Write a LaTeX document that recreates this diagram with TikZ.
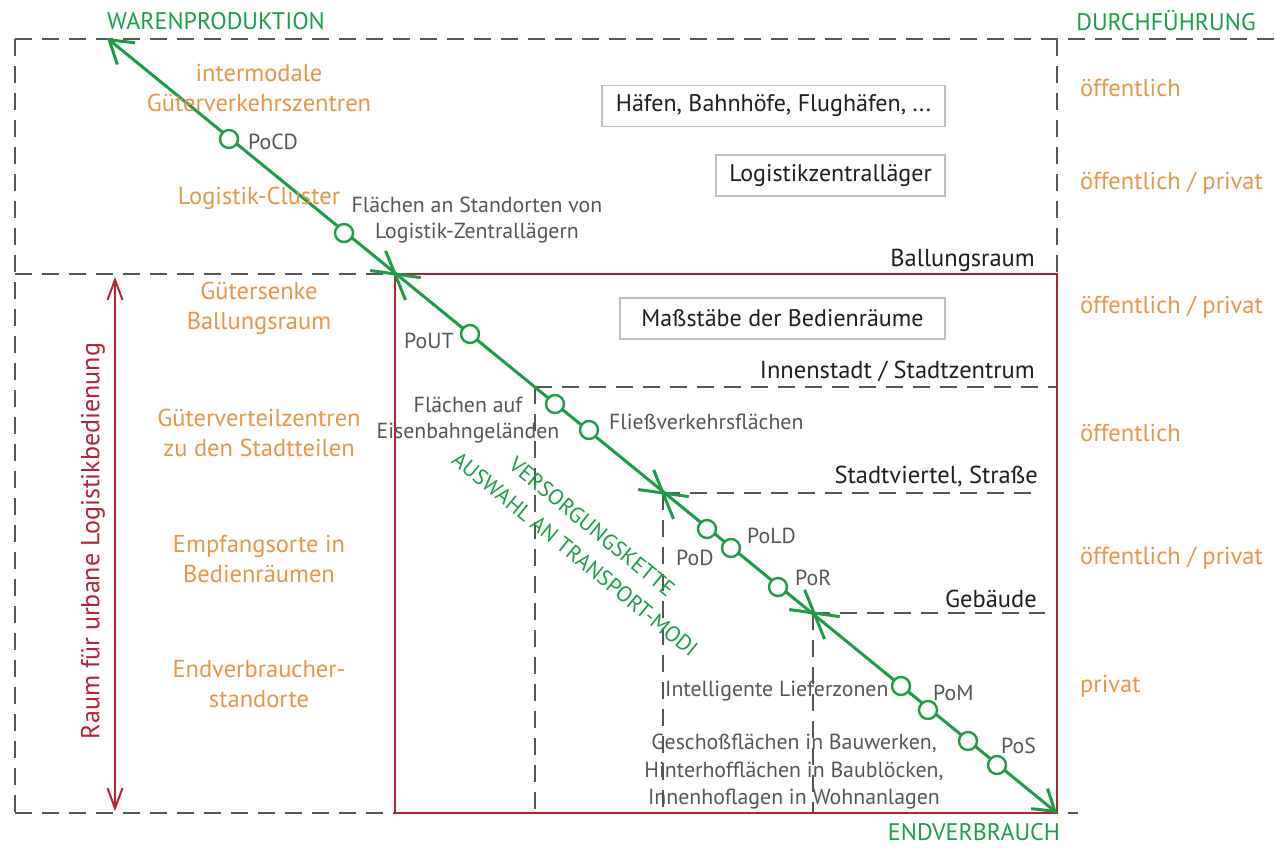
\documentclass[tikz,border=0pt]{standalone}
\usepackage{fontspec}
\setmainfont{PT Sans}
\usetikzlibrary{arrows.meta}
\definecolor{gr}{RGB}{30,155,71}
\definecolor{orc}{RGB}{226,150,72}
\definecolor{rd}{RGB}{176,36,58}
\definecolor{gy}{RGB}{85,85,85}
\definecolor{dk}{RGB}{30,30,30}
\definecolor{bx}{RGB}{190,190,190}
\begin{document}
\begin{tikzpicture}[x=1pt,y=-1pt,
  dline/.style={draw=gy,line width=1.8pt,dash pattern=on 17pt off 10pt},
  orangetxt/.style={text=orc,inner sep=0,align=center,font=\fontsize{24.5}{30}\selectfont},
  graytxt/.style={text=gy,inner sep=0,align=center,font=\fontsize{21.8}{25.5}\selectfont},
  blacktxt/.style={text=dk,inner sep=0,font=\fontsize{24.5}{26}\selectfont},
  greentxt/.style={text=gr,inner sep=0,font=\fontsize{24}{26}\selectfont},
  rottxt/.style={text=gr,inner sep=0,font=\fontsize{22}{26}\selectfont,rotate=-39.2},
  boxtxt/.style={draw=bx,line width=1.2pt,text=dk,inner sep=0,font=\fontsize{24}{26}\selectfont,minimum height=41pt},
  stop/.style={circle,draw=gr,fill=white,line width=2.4pt,minimum size=18pt,inner sep=0},
  chain/.style={draw=gr,line width=3pt},
  tick/.style={draw=gr,line width=3pt}
]
\useasboundingbox (0,0) rectangle (1276,847);
% outer dashed frame
\draw[dline] (15,39) -- (1276,39);
\draw[dline] (15,39) -- (15,813);
\draw[dline] (15,813) -- (1078,813);
\draw[dline] (15,274) -- (395,274);
\draw[dline] (1057,39) -- (1057,274);
% inner dashed
\draw[dline] (535,387) -- (1057,387);
\draw[dline] (535,387) -- (535,813);
\draw[dline] (663,493) -- (1040,493);
\draw[dline] (663,493) -- (663,813);
\draw[dline] (813,613) -- (1045,613);
\draw[dline] (813,613) -- (813,813);
% red box
\draw[rd,line width=2.4pt] (395,274) rectangle (1057,813);
% red arrow
\coordinate (ra) at (115,277);
\coordinate (rb) at (115,811);
\draw[rd,line width=2pt,{Straight Barb[length=20pt,width=15pt]}-{Straight Barb[length=20pt,width=15pt]}] (ra) -- (rb);
\node[text=rd,inner sep=0,rotate=90,font=\fontsize{26}{26}\selectfont] (raum) at (93,541) {Raum für urbane Logistikbedienung};
% main chain
\coordinate (top) at (107,38);
\coordinate (bot) at (1057,813);
\draw[chain,{Straight Barb[length=22pt,width=28pt]}-{Straight Barb[length=20pt,width=26pt]}] (top) -- (bot);
% crossing ticks
\foreach \c in {(395,274),(663,493),(814,613)}{
  \draw[tick] \c ++(68:-25) -- ++(68:53);
  \draw[tick] \c ++(8:-25) -- ++(8:51);
}
% stops
\node[stop] (s1) at (229,139) {};
\node[stop] (s2) at (344,233) {};
\node[stop] (s3) at (470,334) {};
\node[stop] (s4) at (555,404) {};
\node[stop] (s5) at (589,430) {};
\node[stop] (s6) at (707,529) {};
\node[stop] (s7) at (731,548) {};
\node[stop] (s8) at (778,587) {};
\node[stop] (s9) at (901,686) {};
\node[stop] (s10) at (928,710) {};
\node[stop] (s11) at (968,741) {};
\node[stop] (s12) at (997,765) {};
% green headings
\node[greentxt] (wp) at (216,21) {WARENPRODUKTION};
\node[greentxt] (df) at (1166,21) {DURCHFÜHRUNG};
\node[greentxt] (ev) at (974,832) {ENDVERBRAUCH};
\node[rottxt] (vk) at (592,527) {VERSORGUNGSKETTE};
\node[rottxt] (aw) at (575,554) {AUSWAHL AN TRANSPORT-MODI};
% orange left
\node[orangetxt] (o1) at (259,88) {intermodale\\Güterverkehrszentren};
\node[orangetxt] (o2) at (259,198) {Logistik-Cluster};
\node[orangetxt] (o3) at (259,308) {Gütersenke\\Ballungsraum};
\node[orangetxt] (o4) at (259,433) {Güterverteilzentren\\zu den Stadtteilen};
\node[orangetxt] (o5) at (259,559) {Empfangsorte in\\Bedienräumen};
\node[orangetxt] (o6) at (259,684) {Endverbraucher-\\standorte};
% orange right
\node[orangetxt,anchor=west] (r1) at (1080,88) {öffentlich};
\node[orangetxt,anchor=west] (r2) at (1080,183) {öffentlich / privat};
\node[orangetxt,anchor=west] (r3) at (1080,307) {öffentlich / privat};
\node[orangetxt,anchor=west] (r4) at (1080,433) {öffentlich};
\node[orangetxt,anchor=west] (r5) at (1080,558) {öffentlich / privat};
\node[orangetxt,anchor=west] (r6) at (1080,686) {privat};
% boxes
\node[boxtxt,minimum width=343pt] (b1) at (773.5,106) {Häfen, Bahnhöfe, Flughäfen, ...};
\node[boxtxt,minimum width=229pt] (b2) at (830.5,175.5) {Logistikzentralläger};
\node[boxtxt,minimum width=325pt] (b3) at (782.5,318.5) {Maßstäbe der Bedienräume};
% black labels
\node[blacktxt,anchor=east] (l1) at (1035,260) {Ballungsraum};
\node[blacktxt,anchor=east] (l2) at (1035,371) {Innenstadt / Stadtzentrum};
\node[blacktxt,anchor=east] (l3) at (1038,477) {Stadtviertel, Straße};
\node[blacktxt,anchor=east] (l4) at (1037,599) {Gebäude};
% gray labels
\node[graytxt,anchor=west] (g1) at (248,142) {PoCD};
\node[graytxt] (g2) at (477,220) {Flächen an Standorten von\\Logistik-Zentrallägern};
\node[graytxt,anchor=west] (g3) at (404,341) {PoUT};
\node[graytxt] (g4) at (468,420) {Flächen auf\\Eisenbahngeländen};
\node[graytxt,anchor=west] (g5) at (609,422) {Fließverkehrsflächen};
\node[graytxt,anchor=west] (g6) at (676,558) {PoD};
\node[graytxt,anchor=west] (g7) at (747,536) {PoLD};
\node[graytxt,anchor=west] (g8) at (795,578) {PoR};
\node[graytxt,anchor=west] (g9) at (665,691) {Intelligente Lieferzonen};
\node[graytxt,anchor=west] (g10) at (933,693) {PoM};
\node[graytxt,anchor=west] (g11) at (1001,746) {PoS};
\node[graytxt,font=\fontsize{21.8}{27.5}\selectfont] (g12) at (794,772) {Geschoßflächen in Bauwerken,\\Hinterhofflächen in Baublöcken,\\Innenhoflagen in Wohnanlagen};
\end{tikzpicture}
\end{document}
